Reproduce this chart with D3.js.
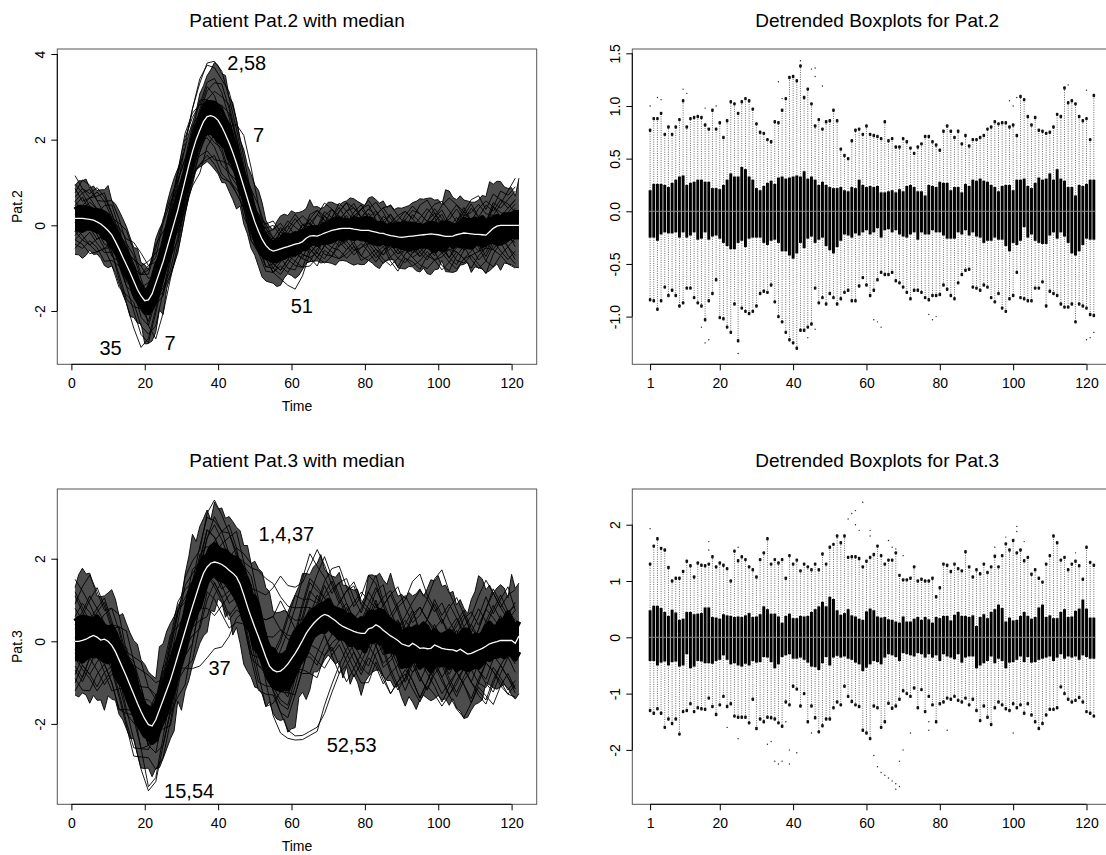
<!DOCTYPE html>
<html>
<head>
<meta charset="utf-8">
<script src="https://cdn.jsdelivr.net/npm/d3@7"></script>
<style>
  body { margin: 0; background: #fff; }
</style>
</head>
<body>
<script>
// ---- data ----
const time = d3.range(1, 123)
const coarseTime = d3.range(1, 122, 2)

const pat2Median = [
  .16,.16,.16,.15,.14,.12,.08,.03,-.04,-.12,
  -.22,-.38,-.55,-.74,-.92,-1.1,-1.3,-1.5,-1.65,-1.76,
  -1.74,-1.6,-1.35,-1.1,-.85,-.55,-.25,.05,.35,.7,
  1.05,1.4,1.72,2.0,2.22,2.42,2.54,2.56,2.53,2.45,
  2.3,2.12,1.92,1.7,1.45,1.18,.9,.62,.34,.08,
  -.14,-.33,-.47,-.56,-.6,-.58,-.55,-.52,-.5,-.47,
  -.44,-.42,-.38,-.3,-.25,-.24,-.25,-.22,-.18,-.15,
  -.12,-.1,-.08,-.07,-.07,-.07,-.09,-.1,-.12,-.12,
  -.12,-.14,-.16,-.18,-.19,-.22,-.24,-.25,-.27,-.28,
  -.27,-.26,-.25,-.24,-.23,-.22,-.21,-.2,-.21,-.22,
  -.24,-.26,-.26,-.25,-.22,-.2,-.18,-.19,-.2,-.21,
  -.21,-.22,-.23,-.15,-.07,-.02,0,0,0,0,
  0,0]

const pat3Median = [
  0,0,.02,.05,.1,.14,.1,.03,.05,0,
  -.1,-.25,-.45,-.65,-.85,-1.07,-1.28,-1.5,-1.7,-1.88,
  -2.02,-2.05,-1.9,-1.66,-1.42,-1.18,-.94,-.65,-.35,-.05,
  .25,.55,.84,1.12,1.4,1.65,1.8,1.89,1.92,1.9,
  1.86,1.8,1.72,1.65,1.56,1.38,1.12,.84,.58,.34,
  .11,-.13,-.38,-.6,-.7,-.74,-.72,-.65,-.55,-.42,
  -.29,-.14,.02,.19,.32,.43,.52,.6,.65,.62,
  .56,.5,.42,.36,.32,.28,.24,.21,.19,.19,
  .3,.33,.4,.35,.27,.2,.13,.08,.02,-.06,
  -.09,-.12,-.05,-.1,-.17,-.16,-.18,-.17,-.09,-.13,
  -.17,-.19,-.2,-.21,-.24,-.19,-.25,-.31,-.29,-.25,
  -.21,-.17,-.12,-.06,-.03,-.01,.02,.02,.02,.02,
  -.05,.13]

// detrended box statistics (curve minus median), one entry per time
const pat2Q3 = [
  .20,.26,.26,.26,.25,.23,.27,.30,.33,.34,
  .25,.27,.28,.30,.30,.28,.28,.22,.22,.21,
  .25,.30,.36,.33,.33,.42,.40,.33,.30,.22,
  .20,.24,.27,.29,.26,.32,.33,.31,.32,.33,
  .34,.33,.38,.31,.33,.30,.25,.28,.25,.23,
  .22,.22,.23,.20,.19,.23,.22,.30,.25,.23,
  .24,.23,.24,.18,.18,.19,.20,.18,.21,.19,
  .24,.25,.23,.19,.19,.15,.25,.24,.23,.28,
  .27,.27,.20,.23,.23,.18,.26,.24,.30,.29,
  .31,.29,.28,.25,.23,.19,.24,.25,.25,.20,
  .30,.30,.31,.24,.22,.27,.32,.30,.31,.36,
  .30,.40,.31,.29,.23,.23,.15,.25,.24,.26,
  .30,.30]
const pat2Q1 = [
  -.25,-.25,-.28,-.22,-.20,-.21,-.21,-.20,-.25,-.20,
  -.25,-.23,-.20,-.27,-.26,-.20,-.27,-.24,-.23,-.26,
  -.30,-.33,-.36,-.36,-.30,-.28,-.34,-.26,-.25,-.25,
  -.25,-.30,-.32,-.28,-.27,-.30,-.38,-.38,-.42,-.45,
  -.40,-.30,-.35,-.26,-.24,-.30,-.27,-.25,-.33,-.37,
  -.40,-.34,-.28,-.22,-.23,-.25,-.21,-.23,-.20,-.18,
  -.22,-.20,-.16,-.25,-.18,-.17,-.20,-.18,-.22,-.24,
  -.25,-.22,-.20,-.27,-.20,-.22,-.22,-.18,-.20,-.20,
  -.23,-.26,-.26,-.26,-.20,-.22,-.18,-.23,-.20,-.24,
  -.25,-.30,-.28,-.28,-.25,-.27,-.27,-.33,-.38,-.30,
  -.32,-.28,-.15,-.25,-.22,-.28,-.30,-.31,-.31,-.23,
  -.20,-.26,-.20,-.24,-.30,-.40,-.42,-.38,-.32,-.26,
  -.27,-.27]
const pat2HiWhisk = [
  .77,.88,.88,.93,.73,.80,.73,.80,.87,1.05,
  .80,.88,.89,.90,.89,.82,.78,.96,.78,.84,
  .70,.86,1.04,1.02,.93,1.04,1.07,1.05,.97,.83,
  .75,.74,.68,.66,.85,.84,.96,1.07,1.27,1.28,
  1.24,1.38,1.08,1.16,1.02,.81,.87,.78,.85,.86,
  .96,.86,.59,.53,.50,.67,.77,.78,.73,.81,
  .73,.72,.71,.69,.85,.67,.69,.61,.61,.69,
  .66,.60,.55,.61,.64,.71,.71,.66,.63,.58,
  .76,.81,.76,.70,.76,.64,.72,.62,.68,.68,
  .70,.72,.78,.80,.85,.83,.84,.84,.80,.82,
  .72,1.09,1.06,.90,.82,.89,.77,.76,.74,.75,
  .80,.92,.90,1.17,1.03,1.05,1.02,.90,.86,.88,
  .68,1.10]
const pat2LoWhisk = [
  -.84,-.85,-.93,-.85,-.72,-.80,-.75,-.80,-.90,-.87,
  -.73,-.73,-.82,-.87,-.90,-1.03,-.85,-.78,-.65,-1.01,
  -1.02,-1.10,-1.15,-.88,-1.23,-.92,-.95,-.97,-.95,-.90,
  -.78,-.76,-.77,-.70,-.86,-1.00,-1.05,-1.15,-1.22,-1.25,
  -1.30,-1.13,-1.13,-1.10,-1.07,-.73,-.87,-.82,-.88,-.78,
  -.82,-.88,-.83,-.77,-.75,-.85,-.85,-.71,-.63,-.70,
  -.80,-.75,-.65,-.58,-.60,-.60,-.58,-.66,-.68,-.72,
  -.77,-.83,-.75,-.75,-.77,-.82,-.84,-.80,-.80,-.79,
  -.70,-.74,-.80,-.83,-.68,-.60,-.56,-.55,-.72,-.73,
  -.75,-.70,-.72,-.82,-.86,-.78,-.92,-.95,-.83,-.80,
  -.58,-.82,-.83,-.85,-.85,-.73,-.73,-.67,-.90,-.76,
  -.78,-.80,-.88,-.91,-.91,-.88,-1.05,-.88,-.90,-.92,
  -.98,-.99]
const pat2Outliers = [
  [1,1.0],[3,1.08],[4,1.06],[10,1.16],[11,1.12],[16,.98],[19,1.0],[15,-1.1],[16,-1.25],[17,-1.22],
  [25,-1.35],[36,1.23],[37,1.07],[42,1.43],[45,1.35],[46,1.36],[46,1.28],[48,1.19],[44,-1.2],[46,-1.12],
  [62,-1.03],[63,-1.05],[64,-1.1],[77,-.98],[78,-1.03],[79,-1.0],[99,1.05],[101,1.08],[100,1.0],
  [115,1.2],[120,1.15],[120,-1.22],[121,-1.2],[122,-1.15]]

const pat3Q3 = [
  .48,.56,.56,.52,.45,.38,.49,.44,.31,.33,
  .45,.45,.41,.42,.43,.53,.53,.36,.35,.33,
  .41,.39,.38,.36,.37,.36,.39,.43,.36,.37,
  .41,.55,.50,.42,.42,.37,.26,.38,.42,.34,
  .34,.38,.37,.38,.45,.50,.55,.63,.55,.72,
  .68,.48,.40,.43,.50,.39,.37,.33,.31,.46,
  .51,.48,.37,.35,.36,.32,.31,.28,.26,.37,
  .28,.28,.33,.36,.31,.36,.32,.26,.36,.34,
  .38,.38,.30,.40,.45,.38,.38,.36,.39,.20,
  .36,.41,.34,.45,.50,.58,.52,.28,.35,.30,
  .31,.38,.45,.38,.33,.36,.53,.58,.36,.39,
  .34,.34,.45,.50,.36,.37,.47,.51,.67,.51,
  .35,.35]
const pat3Q1 = [
  -.42,-.42,-.50,-.45,-.43,-.50,-.44,-.43,-.52,-.50,
  -.30,-.55,-.52,-.42,-.43,-.46,-.46,-.47,-.42,-.40,
  -.32,-.40,-.48,-.46,-.50,-.52,-.47,-.50,-.42,-.45,
  -.44,-.35,-.36,-.44,-.55,-.48,-.35,-.32,-.30,-.38,
  -.38,-.36,-.40,-.45,-.52,-.53,-.58,-.46,-.35,-.50,
  -.36,-.33,-.36,-.34,-.38,-.40,-.45,-.48,-.60,-.54,
  -.48,-.42,-.44,-.48,-.36,-.30,-.32,-.35,-.42,-.28,
  -.30,-.32,-.34,-.28,-.30,-.36,-.30,-.36,-.32,-.42,
  -.30,-.34,-.36,-.39,-.30,-.45,-.36,-.34,-.34,-.55,
  -.50,-.46,-.42,-.34,-.46,-.38,-.42,-.55,-.45,-.44,
  -.40,-.34,-.44,-.35,-.45,-.44,-.40,-.38,-.36,-.34,
  -.42,-.36,-.30,-.38,-.34,-.36,-.34,-.40,-.32,-.35,
  -.38,-.38]
const pat3HiWhisk = [
  1.30,1.62,1.75,1.58,1.55,1.24,1.00,1.05,1.05,1.17,
  1.35,1.27,1.07,1.32,1.28,1.27,1.30,1.43,1.25,1.32,
  1.28,1.22,1.00,1.53,1.36,1.43,1.38,1.25,1.20,1.07,
  1.38,1.50,1.75,1.30,1.38,1.32,1.38,1.05,1.45,1.30,
  1.37,1.18,1.30,1.25,1.20,1.30,1.20,1.48,1.30,1.60,
  1.65,1.80,1.68,1.80,1.42,1.43,1.43,1.40,1.25,1.35,
  1.42,1.47,1.62,1.45,1.30,1.37,1.37,1.50,1.10,1.02,
  1.02,1.05,1.25,1.00,1.03,1.00,1.00,1.05,.72,.88,
  1.30,1.28,1.17,1.30,1.22,1.18,1.52,1.25,1.07,1.20,
  1.13,1.30,1.15,1.25,1.44,1.25,1.45,1.66,1.55,1.72,
  1.50,1.55,1.36,1.42,1.12,1.20,1.05,.98,1.30,1.45,
  1.80,1.68,1.37,1.42,1.20,1.30,1.35,1.27,1.03,1.60,
  1.33,1.28]
const pat3LoWhisk = [
  -1.30,-1.35,-1.27,-1.35,-1.60,-1.45,-1.53,-1.45,-1.72,-1.32,
  -1.30,-1.18,-1.32,-1.25,-1.27,-1.28,-1.08,-1.23,-1.37,-1.20,
  -1.05,-1.23,-1.18,-1.40,-1.42,-1.42,-1.42,-1.52,-1.10,-1.62,
  -1.45,-1.50,-1.42,-1.43,-1.45,-1.52,-1.58,-1.15,-1.20,-.87,
  -.92,-1.22,-1.00,-1.50,-1.22,-1.43,-1.68,-1.57,-1.45,-1.45,
  -1.25,-1.15,-1.20,-.87,-1.05,-1.14,-1.20,-1.23,-1.65,-1.70,
  -1.80,-1.22,-1.25,-1.60,-1.50,-1.17,-1.26,-1.22,-1.10,-.95,
  -1.00,-1.05,-.90,-1.25,-.93,-1.32,-1.05,-1.20,-1.50,-1.18,
  -1.15,-1.08,-1.10,-1.05,-1.12,-1.15,-1.08,-1.20,-1.10,-1.30,
  -1.48,-1.22,-1.42,-1.55,-1.25,-1.15,-1.20,-1.27,-1.30,-1.18,
  -1.25,-1.20,-1.35,-1.18,-1.38,-1.50,-1.62,-1.53,-1.38,-1.28,
  -1.28,-1.25,-.88,-1.00,-1.10,-1.15,-1.12,-1.07,-1.15,-1.32,
  -1.35,-1.40]
const pat3Outliers = [
  [1,1.93],[17,1.7],[17,1.55],[25,1.6],[55,2.1],[56,2.2],[57,2.25],[57,2.0],[58,1.9],[59,2.4],
  [61,1.9],[61,1.8],[66,1.72],[67,1.6],[68,1.57],[70,1.45],[95,1.6],[98,1.78],[101,1.97],[101,1.88],
  [103,1.7],[117,1.5],[33,-1.9],[34,-1.85],[35,-2.2],[36,-2.25],[37,-2.2],[39,-2.0],[39,-2.25],[41,-2.05],
  [38,-1.5],[45,-1.7],[62,-2.1],[63,-2.3],[64,-2.4],[65,-2.45],[66,-2.5],[67,-2.55],[68,-2.6],[68,-2.7],
  [69,-2.65],[69,-2.2],[70,-2.0],[72,-1.7],[77,-1.5],[77,-1.65],[82,-1.65],[100,-1.7],[25,-1.8],[22,-1.6]]

// individual curves, as residuals from the median at odd times 1,3,...,121
const pat2Residuals = [
  [.6,.9,.8,.5,.3,.2,.1,-.2,-.4,-.3, .1,.4,.6,.7,.8,.9,1.0,1.1,1.25,1.3, 1.3,1.05,.8,.5,.3,.1,-.2,-.3,.1,.3,
   .1,.4,.3,0,.2,.5,.3,.1,.4,.6, .3,.1,.4,.3,0,.2,.5,.3,.1,.4, .6,.3,.1,.4,.7,.4,.2,.5,.8,.7, .9],
  [.2,.1,-.2,-.4,-.2,0,.3,.5,.6,.4, 0,-.3,-.1,.3,.6,.8,1.0,1.2,1.2,1.15, 1.1,1.2,1.0,.7,.4,.2,.1,.3,.5,.2,
   -.2,-.4,-.1,.2,.4,.1,-.2,0,.3,.1, -.3,-.1,.2,.5,.3,0,-.3,-.2,.1,.3, .5,.2,-.1,.3,.6,.4,.1,-.2,0,.3, .5],
  [-.3,-.5,-.6,-.4,-.2,-.4,-.7,-.9,-1.1,-1.2, -.9,-.6,-.4,-.2,-.5,-.7,-.4,-.2,0,.2, .1,-.2,-.4,-.3,-.1,.2,.4,.3,.1,-.1,
   .2,.4,.1,-.2,0,.3,.5,.2,-.1,.1, .4,.2,-.1,-.3,0,.2,-.1,-.4,-.2,.1, .3,0,-.3,-.1,.2,.4,.1,-.2,-.4,-.1, .2],
  [.4,.6,.7,.5,.6,.8,.7,.5,.3,.1, -.6,-1.3,-1.2,-1.0,-.8,-.6,-.5,-.3,-.2,-.3, -.1,.4,.9,1.2,1.0,.6,.2,0,-.2,.1,
   .3,.1,-.2,-.4,-.1,.2,0,-.3,-.1,.2, 0,-.3,-.5,-.2,.1,-.1,-.4,-.2,.2,0, -.3,-.5,-.2,.1,-.2,-.4,-.1,.2,0,-.3, -.4],
  [-.5,-.3,-.1,.1,.3,.1,-.2,-.4,-.2,.1, .3,.5,.3,.1,-.2,-.4,-.6,-.5,-.3,-.1, -.2,-.4,-.2,0,-.3,-.5,-.6,-.5,-.7,-.9,
   -1.05,-.8,-.4,-.2,-.5,-.6,-.3,-.1,-.4,-.6, -.3,0,-.2,-.5,-.7,-.4,-.2,-.5,-.3,0, -.2,-.5,-.7,-.4,-.1,-.3,-.6,-.4,-.2,-.5, -.7],
  [.8,.6,.3,.2,.5,.7,.5,.2,0,-.3, -.5,-.3,.2,.5,.7,.5,.2,-.2,-.5,-.7, -.9,-.7,-.4,-.1,.2,.4,.3,.5,.6,.3,
   .5,.6,.3,.1,.4,.5,.2,.4,.6,.3, .1,.4,.6,.4,.2,.5,.7,.5,.3,.6, .4,.1,.3,.6,.3,0,.3,.6,.4,.6, .8],
  [-.6,-.7,-.5,-.6,-.8,-.6,-.4,-.2,.2,.5, .7,.9,.7,.4,.1,-.2,-.5,-.8,-1.0,-.9, -1.1,-.9,-.6,-.3,-.4,-.2,-.5,-.4,-.2,-.5,
   -.6,-.3,-.5,-.7,-.4,-.6,-.7,-.5,-.3,-.6, -.7,-.5,-.3,-.6,-.8,-.5,-.6,-.8,-.5,-.4, -.7,-.8,-.5,-.3,-.6,-.8,-.6,-.9,-.7,-.5, -.8],
  [.1,.3,.5,.7,.6,.4,.6,.8,.7,.5, .8,.6,.9,.8,.5,.3,.5,.7,.4,.2, .5,.7,.6,.4,.5,.2,.4,.6,.3,.5,
   .7,.4,.2,.5,.7,.5,.2,.4,.5,.3, .5,.7,.5,.2,.4,.6,.4,.7,.8,.5, .2,.5,.7,.5,.8,.9,.6,.8,.6,.4, .6],
  [-.2,-.4,-.6,-.7,-.5,-.7,-.9,-.7,-.5,-.7, -.8,-1.0,-.7,-.9,-1.0,-.8,-.6,-.8,-.9,-1.1, -1.2,-.9,-.7,-.5,-.7,-.4,-.3,-.5,-.4,-.6,
   -.4,-.6,-.7,-.5,-.3,-.5,-.7,-.6,-.4,-.7, -.6,-.4,-.6,-.7,-.5,-.3,-.5,-.7,-.8,-.6, -.4,-.6,-.8,-.6,-.5,-.7,-.9,-.6,-.4,-.7, -.9],
  [.3,.5,.2,0,.2,.4,.2,.1,.3,.5, .6,.8,1.0,.9,.7,.5,.6,.4,.2,0, -.3,-.5,-.3,-.1,.2,0,.2,.1,.4,.6,
   .4,.2,.5,.6,.3,.1,.4,.6,.3,.5, .6,.3,.1,.3,.5,.6,.4,.2,.5,.7, .8,.6,.3,.5,.3,.6,.8,.5,.3,.2, .4],
  [-.4,-.2,0,-.2,-.4,-.3,-.1,0,-.2,-.5, -.6,-.4,-.6,-.8,-.6,-.4,-.7,-.5,-.3,-.5, -.6,-.8,-.7,-.5,-.2,-.3,-.1,-.3,-.5,-.3,
   -.1,-.3,-.5,-.4,-.6,-.4,-.2,-.4,-.6,-.4, -.2,-.4,-.5,-.3,-.5,-.6,-.4,-.3,-.5,-.6, -.5,-.3,-.4,-.6,-.4,-.2,-.5,-.3,-.6,-.8, -.6],
  [.7,.4,.5,.3,.1,-.1,.1,.3,.5,.7, .9,.7,.4,.6,.9,1.0,.8,.6,.8,.9, .8,.6,.3,.1,-.1,-.3,-.1,.2,0,-.2,
   -.4,-.2,.1,-.1,-.3,-.2,.1,.3,.1,-.2, 0,.2,-.1,.1,.3,.1,-.1,0,.2,.1, -.1,.2,.4,.2,0,-.2,.1,.3,.1,.3, 0],
  [-.1,.2,.4,.3,0,-.2,0,.3,.5,.7, .5,.2,-.2,-.5,-.7,-.5,-.2,.1,.4,.6, .7,.9,.6,.3,.5,.6,.4,.2,.4,.5,
   .2,0,.3,.5,.3,0,-.2,.1,.3,.5, .3,.5,.2,0,.3,.4,.1,-.1,.2,.4, .1,-.1,.2,.5,.3,0,.3,.5,.2,.4, .6],
  [.4,.2,0,-.3,-.5,-.3,0,.2,.4,.2, -.2,-.5,-.8,-.6,-.3,0,.3,.5,.7,.5, .2,-.1,-.4,-.7,-.5,-.2,.1,-.1,-.3,-.1,
   .1,-.1,-.4,-.2,.1,-.2,-.4,-.1,.2,0, -.2,.1,.3,0,-.3,-.1,.2,0,-.3,-.5, -.2,.1,-.1,-.4,-.2,.1,-.2,-.5,-.3,0, .2],
  [1.0,.7,.5,.6,.8,.5,.3,.1,-.1,.2, .4,.3,.5,.7,.9,1.1,.9,.6,.3,-.1, -.4,-.2,.1,.3,.2,.4,.5,.3,.2,.4,
   .6,.3,.4,.6,.4,.2,.4,.6,.5,.3, .5,.4,.6,.7,.5,.3,.2,.4,.6,.4, .7,.9,.7,.4,.5,.7,.5,.3,.5,.8, 1.1],
  [-.7,-.5,-.3,-.5,-.6,-.4,-.6,-.8,-.6,-.3, -.1,-.4,-.7,-.5,-.2,0,-.3,-.6,-.8,-1.0, -.8,-.5,-.2,-.4,-.6,-.4,-.5,-.3,-.5,-.3,
   -.5,-.6,-.3,-.5,-.7,-.6,-.4,-.3,-.5,-.4, -.3,-.5,-.7,-.5,-.3,-.5,-.7,-.6,-.4,-.6, -.8,-.6,-.4,-.6,-.8,-.5,-.3,-.5,-.7,-.9, -1.0],
  [.2,0,.1,.3,.1,.3,.5,.6,.9,1.0, .8,.5,.2,.4,.2,-.1,-.3,-.5,-.4,-.6, -.5,-.7,-.5,-.2,0,.1,-.1,.1,-.1,.1,
   .3,.1,0,.2,-.1,.1,.3,0,-.1,.2, .1,-.1,.1,.2,0,-.2,0,.2,0,-.1, .1,.3,.1,-.2,-.1,.1,-.1,0,.2,0, -.2],
  [-.5,-.6,-.8,-.7,-.5,-.2,-.4,-.5,-.7,-.9, -1.0,-.7,-.4,-.2,.1,.3,0,-.2,.1,.3, .5,.3,-.1,-.3,-.1,-.3,-.2,-.4,-.6,-.4,
   -.2,-.4,-.6,-.3,-.2,-.4,-.5,-.7,-.5,-.3, -.5,-.7,-.4,-.2,-.4,-.3,-.5,-.4,-.6,-.3, -.4,-.3,-.6,-.7,-.5,-.4,-.3,-.1,-.3,-.5, -.3],
  [.5,.7,.6,.8,.7,.5,.4,.2,.1,.3, .1,-.1,.1,-.1,-.3,-.1,.2,.4,.6,.8, 1.0,.8,.5,.2,.4,.3,.5,.7,.4,.2,
   0,.2,.4,.2,.5,.3,.6,.4,.2,.5, .7,.5,.3,.5,.2,.4,.6,.5,.3,.5, .3,.4,.6,.3,.1,.4,.7,.4,.6,.5, .3],
  [-.3,-.1,.1,0,-.2,-.5,-.3,-.5,-.3,0, .2,0,-.3,-.5,-.3,-.6,-.8,-1.0,-.7,-.4, -.2,0,-.2,-.5,-.7,-.5,-.3,-.5,-.3,-.2,
   -.3,-.1,-.3,-.5,-.3,-.1,-.3,-.5,-.3,-.1, -.4,-.6,-.4,-.2,-.4,-.2,-.3,-.5,-.3,-.1, -.3,-.5,-.3,-.1,-.3,-.6,-.4,-.2,-.4,-.2, -.5]
]

const pat3Residuals = [
  [.9,1.3,1.5,1.1,.7,.9,1.1,.6,.2,-.2, -.5,-.2,.4,.9,1.1,.8,.6,.9,1.2,1.0, .8,.9,.6,.4,.7,1.1,1.5,2.0,2.3,1.9,
   1.6,1.4,1.5,1.7,1.2,.8,.5,.9,1.1,.7, .4,.8,1.1,.6,.3,.7,1.0,1.4,1.2,.8, 1.1,.7,.4,.8,1.0,.6,.9,1.3,.9,.6, 1.0],
  [.3,.6,.9,1.2,.8,.4,.1,.5,.8,.6, .2,-.1,.3,.7,1.0,1.3,1.1,.8,1.3,1.5, 1.2,.9,.5,.8,1.2,1.6,1.9,2.1,1.8,1.4,
   1.1,1.5,1.8,1.3,.9,.6,1.0,1.2,.8,.5, .9,1.2,.7,.4,.8,1.1,1.5,1.8,1.3,.9, .6,1.0,1.3,.9,.5,.8,1.2,.7,1.0,1.3, .8],
  [-.6,-.9,-.5,-.2,.1,-.3,-.6,-.9,-.7,-.4, 0,.4,.7,.3,-.3,-.9,-1.5,-2.0,-2.2,-2.1, -2.0,-1.6,-1.0,-.4,.1,.5,.9,1.3,1.7,1.2,
   .6,.2,-.2,.3,.7,.4,-.1,-.4,0,.4, .1,-.3,-.6,-.2,.2,-.1,-.5,-.8,-.4,0, -.3,-.6,-.2,.3,-.1,-.5,-.8,-.4,-.1,.3, -.2],
  [-.2,.1,.4,.1,-.3,-.6,-.4,-.8,-1.1,-1.4, -1.6,-1.5,-1.1,-.8,-1.0,-1.3,-.9,-.5,-.2,-.5, -.8,-.5,-.1,.3,.6,.2,-.2,.1,.4,0,
   -.4,-.7,-.3,0,-.5,-.8,-.4,-.1,-.5,-.9, -.6,-.2,-.5,-.9,-1.2,-.8,-.4,-.7,-1.0,-.6, -.3,-.7,-1.0,-.6,-.2,-.5,-.9,-1.2,-.8,-.4, -.7],
  [.5,.2,-.2,-.5,-.2,.2,.5,.1,-.4,-.9, -1.5,-1.4,-.9,-.4,-.1,.2,.5,.2,-.2,.1, .4,.1,-.3,-.7,-1.0,-.7,-.3,0,-.4,-.8,
   -.5,-.1,.3,.6,.2,-.2,.1,.5,.2,-.2, .2,.5,.2,-.1,.3,.6,.3,-.1,.2,.5, .2,-.2,.1,.4,.7,.3,0,.3,.6,.2, .4],
  [-1.2,-.9,-.5,-.8,-1.1,-.7,-.4,-.1,.3,.6, .2,-.3,-.6,-.3,.2,.6,.9,.5,.1,-.3, -.6,-.3,.2,.5,.1,-.3,-.1,-.5,-1.0,-1.6,
   -2.0,-2.3,-2.5,-2.6,-2.4,-1.8,-1.2,-.7,-.3,-.6, -.9,-.5,-.1,-.4,-.8,-1.1,-.7,-.3,-.6,-1.0, -1.3,-.9,-.5,-.8,-1.2,-.8,-.4,-.7,-1.1,-.8, -1.1],
  [-.9,-1.2,-1.3,-.9,-.6,-.9,-1.2,-.8,-.4,-.1, .3,.6,.3,-.2,-.5,-.2,.2,.5,.2,-.2, -.5,-.8,-.5,-.1,.3,-.1,-.6,-1.1,-1.5,-1.8,
   -2.1,-2.4,-2.6,-2.7,-2.2,-1.6,-1.0,-.5,-.2,.2, -.1,-.5,-.9,-.6,-.2,-.5,-.9,-1.2,-.8,-.4, -.7,-1.1,-.8,-.4,-.7,-1.1,-1.4,-1.0,-.6,-.9, -1.2],
  [1.2,.8,.4,.7,1.0,.6,.3,.6,.9,1.2, .9,.5,.8,1.1,.7,.4,.1,.4,.7,.9, .6,.3,.7,1.0,1.3,.9,.6,.3,.7,1.1,
   1.4,1.0,.7,.4,.8,1.2,1.4,1.0,.6,.9, 1.3,1.0,.6,1.0,1.3,.9,.5,.8,1.2,1.6, 1.9,1.4,1.0,.6,.9,1.3,1.6,1.2,.8,1.1, 1.3],
  [-.4,-.7,-1.0,-1.3,-1.0,-.6,-.9,-1.2,-1.5,-1.1, -.8,-1.2,-1.4,-1.0,-.6,-.9,-1.3,-1.0,-.6,-.9, -1.2,-1.4,-1.1,-.7,-1.0,-1.3,-.9,-.6,-1.0,-1.3,
   -1.0,-.7,-1.1,-1.4,-1.0,-.7,-1.0,-1.3,-.9,-1.2, -1.3,-.9,-1.2,-1.4,-1.0,-.7,-1.1,-1.3,-.9,-1.2, -1.4,-1.1,-1.4,-1.6,-1.2,-.9,-1.2,-1.5,-1.1,-1.3, -1.3],
  [.6,.9,.6,.3,.6,.9,.7,.4,.7,1.0, 1.2,.9,.5,.8,1.1,.7,.4,.7,.5,.2, .5,.8,1.1,.8,.5,.2,.5,.8,1.0,.7,
   .4,.8,1.1,.7,.4,.1,.5,.9,1.2,.8, .5,.2,.6,1.0,.7,.3,.6,1.0,.7,.4, .1,.5,.8,.4,.1,.5,.9,.6,.3,.7, .5],
  [-.8,-.4,-.1,-.4,-.8,-1.1,-.7,-.3,-.6,-.9, -.6,-.3,-.7,-1.1,-.8,-.4,-.7,-1.1,-.8,-.5, -.8,-1.1,-.7,-.3,-.6,-.9,-1.2,-.8,-.5,-.7,
   -.4,-.8,-1.1,-.8,-.5,-.9,-1.2,-.9,-.5,-.8, -1.1,-.7,-.4,-.8,-1.1,-.8,-.4,-.7,-1.0,-.7, -.4,-.8,-1.1,-.7,-.4,-.8,-1.0,-.6,-.9,-1.2, -.9],
  [.1,-.2,.2,.5,.2,-.1,.2,.5,.2,-.1, -.3,0,.3,-.1,-.4,-.1,.3,0,-.3,.1, .4,.1,-.2,.2,.5,.1,-.3,.1,.4,.1,
   -.2,.2,.5,.1,-.3,0,.4,.1,-.2,.2, .5,.1,-.2,.2,.5,.2,-.2,.1,.4,.1, -.2,.2,.5,.1,-.2,.2,.5,.2,-.1,.2, .3],
  [1.1,.7,.3,.6,.9,.5,.2,-.1,.3,.6, .9,.6,.2,.5,.8,1.1,.8,.5,.2,.5, .8,1.1,.7,.3,-.1,.3,.6,.2,-.2,.2,
   .5,.9,1.2,.8,.4,.7,1.0,.6,.3,.6, .9,.5,.2,.5,.9,1.2,.8,.4,.7,1.0, .7,.3,.6,.9,.5,.2,.5,.8,1.1,.7, .9],
  [-1.0,-.6,-.9,-1.2,-.8,-.5,-.8,-1.1,-1.3,-.9, -.5,-.8,-1.1,-.7,-.3,-.6,-.9,-.5,-.2,-.6, -.9,-1.2,-.8,-.5,-.8,-1.1,-.7,-.4,-.7,-1.0,
   -.6,-.3,-.6,-1.0,-1.3,-.9,-.5,-.8,-1.1,-.7, -.4,-.8,-1.1,-1.4,-1.0,-.6,-.9,-1.2,-.8,-.5, -.8,-1.1,-.7,-.4,-.7,-1.0,-1.3,-.9,-.6,-.9, -1.1],
  [.4,.7,1.0,.7,.4,.1,.4,.7,.4,.1, -.2,.2,.6,1.0,1.3,1.0,.6,.3,.7,1.1, .8,.4,.1,-.2,.2,.5,.9,1.3,1.0,.6,
   .3,.6,.9,.5,.2,-.1,.3,.6,.3,0, .3,.6,.2,-.1,.2,.5,.8,.4,.1,.4, .7,.4,.1,.4,.7,1.0,.6,.3,0,.3, .6],
  [-.3,-.6,-.9,-.6,-.3,0,-.3,-.6,-.3,0, .3,0,-.4,-.8,-.5,-.2,-.5,-.9,-1.2,-.8, -.4,-.1,.3,0,-.4,-.7,-.4,-.1,-.4,-.7,
   -1.0,-.7,-.4,-.7,-1.0,-.6,-.3,-.6,-.9,-.5, -.2,-.5,-.8,-.5,-.1,-.4,-.7,-.4,-.1,-.4, -.7,-.4,-.1,-.4,-.7,-.3,0,-.3,-.6,-.3, -.5],
  [.8,.5,.2,-.1,.2,.5,.8,1.1,.8,.4, .1,.4,.8,.5,.1,-.2,.1,.5,.9,.6, .3,0,.4,.7,1.0,.7,.4,.1,.5,.8,
   1.1,.8,.5,.2,.5,.9,.6,.3,0,.3, .6,.9,.6,.3,0,.3,.7,1.0,.7,.3, 0,.3,.7,1.0,.6,.3,.6,.9,.5,.2, .5],
  [-.7,-1.0,-.7,-.3,-.6,-.9,-1.2,-.9,-.5,-.2, -.5,-.8,-.4,0,.3,0,-.3,-.6,-1.0,-1.3, -1.0,-.6,-.3,-.6,-.9,-.5,-.2,-.5,-.8,-1.1,
   -.8,-.4,-.7,-1.1,-.8,-.4,-.1,-.4,-.7,-1.0, -.7,-1.0,-1.3,-.9,-.6,-.9,-.5,-.2,-.5,-.8, -1.1,-.8,-.5,-.8,-1.1,-.7,-.4,-.7,-1.0,-1.3, -1.0],
  [0,.3,-.1,-.4,-.1,.3,0,-.3,0,.3, .6,.3,0,.4,.1,-.2,.1,.4,.1,-.2, .1,.4,.1,-.3,0,.3,0,-.4,-.1,.2,
   -.1,-.4,-.1,.2,-.1,-.4,-.1,.3,0,-.3, 0,.3,0,-.3,-.6,-.3,0,.3,0,-.3, 0,.3,0,-.3,0,.3,-.1,-.4,-.1,.2, -.1],
  [1.5,1.2,.8,.4,.1,.4,.8,.5,.1,-.2, -.5,-.2,.2,-.2,-.5,-.2,.2,.6,.9,.6, .2,-.2,.1,.5,.8,.4,.1,.4,.8,1.2,
   .8,.5,.8,1.1,1.4,1.0,.7,.4,.7,1.0, .7,.4,.8,1.1,.8,.4,.1,.4,.7,1.1, .8,1.1,.8,.5,.2,.5,.9,1.2,.8,.5, .8]
]

// curve labels, placed in data coordinates
const pat2Labels = [
  {text: '2,58', t: 47.8, v: 3.8}, {text: '7', t: 51, v: 2.12}, {text: '35', t: 10.7, v: -2.86},
  {text: '7', t: 26.9, v: -2.75}, {text: '51', t: 62.8, v: -1.89}]
const pat3Labels = [
  {text: '1,4,37', t: 58.6, v: 2.61}, {text: '37', t: 40.4, v: -0.64},
  {text: '15,54', t: 32.1, v: -3.62}, {text: '52,53', t: 76.4, v: -2.51}]

const curveTicksX = [0, 20, 40, 60, 80, 100, 120]
const boxTicksX = [1, 20, 40, 60, 80, 100, 120]
const pat2TicksY = [-2, 0, 2, 4]
const pat3TicksY = [-2, 0, 2]
const pat2BoxTicksY = [-1, -0.5, 0, 0.5, 1, 1.5]
const pat3BoxTicksY = [-2, -1, 0, 1, 2]

// ---- drawing ----
const FONT = '"Liberation Sans", Arial, Helvetica, sans-serif'
const svg = d3.select('body').append('svg')
  .attr('width', 1106).attr('height', 855)
  .style('font-family', FONT)

function frame(p, x, y, xt, yt, yfmt, title, xlab, ylab) {
  let g = svg.append('g')
  g.append('rect')
    .attr('x', p.x0).attr('y', p.y0)
    .attr('width', p.x1 - p.x0).attr('height', p.y1 - p.y0)
    .attr('fill', 'none').attr('stroke', '#555')
  let ax = g.append('g').attr('transform', `translate(0,${p.y1})`)
    .call(d3.axisBottom(x).tickValues(xt).tickSize(6).tickPadding(8).tickFormat(d => String(d)))
  ax.select('.domain').remove()
  ax.append('line').attr('x1', x(xt[0])).attr('x2', x(xt[xt.length - 1]))
    .attr('stroke', '#000')
  ax.attr('font-size', 14).attr('font-family', FONT)
  let ay = g.append('g').attr('transform', `translate(${p.x0},0)`)
    .call(d3.axisLeft(y).tickValues(yt).tickSize(6).tickFormat(yfmt))
  ay.select('.domain').remove()
  ay.append('line').attr('y1', y(yt[0])).attr('y2', y(yt[yt.length - 1]))
    .attr('stroke', '#000')
  ay.attr('font-size', 14).attr('font-family', FONT)
  ay.selectAll('text')
    .attr('x', null).attr('dy', null)
    .attr('text-anchor', 'middle')
    .attr('transform', 'translate(-12,0) rotate(-90)')
  g.append('text')
    .attr('x', (p.x0 + p.x1) / 2).attr('y', p.y0 - 22.5)
    .attr('text-anchor', 'middle').attr('font-size', 19)
    .text(title)
  if (xlab) {
    g.append('text')
      .attr('x', (p.x0 + p.x1) / 2).attr('y', p.y1 + 46.5)
      .attr('text-anchor', 'middle').attr('font-size', 14)
      .text(xlab)
  }
  if (ylab) {
    g.append('text')
      .attr('transform', `translate(22,${(p.y0 + p.y1) / 2}) rotate(-90)`)
      .attr('text-anchor', 'middle').attr('font-size', 14)
      .text(ylab)
  }
}

function curvePanel(p, id, x, y, median, residuals, q1, q3, lo, hi, labels) {
  let clip = svg.append('clipPath').attr('id', id)
  clip.append('rect').attr('x', p.x0).attr('y', p.y0)
    .attr('width', p.x1 - p.x0).attr('height', p.y1 - p.y0)
  let g = svg.append('g').attr('clip-path', `url(#${id})`)
  let band = d3.area().x(t => x(t))
  let line = d3.line().x(d => x(d[0])).y(d => y(d[1]))
  let statLine = s => line(time.map(t => [t, median[t - 1] + s[t - 1]]))
  // whisker range of the detrended boxplots: loose bundle
  g.append('path')
    .attr('d', band.y0(t => y(median[t - 1] + lo[t - 1])).y1(t => y(median[t - 1] + hi[t - 1]))(time))
    .attr('fill', '#000').attr('fill-opacity', 0.7)
  // box range: dense core
  g.append('path')
    .attr('d', band.y0(t => y(median[t - 1] + q1[t - 1])).y1(t => y(median[t - 1] + q3[t - 1]))(time))
    .attr('fill', '#000')
  ;[q1, q3].forEach(s => {
    g.append('path').attr('d', statLine(s))
      .attr('fill', 'none').attr('stroke', '#000').attr('stroke-width', 5)
      .attr('stroke-linejoin', 'round')
  })
  residuals.forEach(r => {
    g.append('path')
      .attr('d', line(coarseTime.map((t, i) => [t, median[t - 1] + r[i]])))
      .attr('fill', 'none').attr('stroke', '#000').attr('stroke-width', 0.9)
  })
  ;[lo, hi].forEach(s => {
    g.append('path').attr('d', statLine(s))
      .attr('fill', 'none').attr('stroke', '#000').attr('stroke-width', 0.9)
  })
  g.append('path')
    .attr('d', line(time.map(t => [t, median[t - 1]])))
    .attr('fill', 'none').attr('stroke', '#fff').attr('stroke-width', 1.3)
  svg.append('g').selectAll('text').data(labels).join('text')
    .attr('x', d => x(d.t)).attr('y', d => y(d.v))
    .attr('dy', '0.36em')
    .attr('text-anchor', 'middle').attr('font-size', 20)
    .text(d => d.text)
}

function boxPanel(p, id, x, y, q1, q3, lo, hi, outliers) {
  let clip = svg.append('clipPath').attr('id', id)
  clip.append('rect').attr('x', p.x0).attr('y', p.y0)
    .attr('width', p.x1 - p.x0).attr('height', p.y1 - p.y0)
  let g = svg.append('g').attr('clip-path', `url(#${id})`)
  let bw = 2.9
  g.selectAll('.wu').data(time).join('line')
    .attr('x1', t => x(t)).attr('x2', t => x(t))
    .attr('y1', t => y(q3[t - 1])).attr('y2', t => y(hi[t - 1]))
    .attr('stroke', '#444').attr('stroke-width', 0.8).attr('stroke-dasharray', '1,1.3')
  g.selectAll('.wl').data(time).join('line')
    .attr('x1', t => x(t)).attr('x2', t => x(t))
    .attr('y1', t => y(q1[t - 1])).attr('y2', t => y(lo[t - 1]))
    .attr('stroke', '#444').attr('stroke-width', 0.8).attr('stroke-dasharray', '1,1.3')
  g.selectAll('.bx').data(time).join('rect')
    .attr('x', t => x(t) - bw / 2).attr('width', bw)
    .attr('y', t => y(q3[t - 1])).attr('height', t => y(q1[t - 1]) - y(q3[t - 1]))
    .attr('fill', '#000')
  g.append('line')
    .attr('x1', x(1) - bw / 2).attr('x2', x(122) + bw / 2)
    .attr('y1', y(0)).attr('y2', y(0))
    .attr('stroke', '#888').attr('stroke-width', 1)
  let staples = time.flatMap(t => [[t, hi[t - 1]], [t, lo[t - 1]]])
  g.selectAll('.st').data(staples).join('rect')
    .attr('x', d => x(d[0]) - 1.3).attr('width', 2.6)
    .attr('y', d => y(d[1]) - 1.7).attr('height', 3.4)
    .attr('rx', 1)
    .attr('fill', '#111')
  g.selectAll('.ol').data(outliers).join('circle')
    .attr('cx', d => x(d[0])).attr('cy', d => y(d[1])).attr('r', 0.7)
    .attr('fill', '#222')
}

const pTL = {x0: 57.3, x1: 536.7, y0: 49, y1: 364.3}
const pTR = {x0: 632.3, x1: 1122, y0: 49, y1: 364.3}
const pBL = {x0: 57.3, x1: 536.7, y0: 489, y1: 804.3}
const pBR = {x0: 632.3, x1: 1122, y0: 489, y1: 804.3}

const xCurve = d3.scaleLinear().domain([-3.84, 126.84]).range([pTL.x0, pTL.x1])
const xBox = d3.scaleLinear().domain([1, 120]).range([650.1, 1086.5])
const yTL = d3.scaleLinear().domain([-3.245, 4.117]).range([pTL.y1, pTL.y0])
const yTR = d3.scaleLinear().domain([-1.453, 1.541]).range([pTR.y1, pTR.y0])
const yBL = d3.scaleLinear().domain([-3.947, 3.688]).range([pBL.y1, pBL.y0])
const yBR = d3.scaleLinear().domain([-2.966, 2.634]).range([pBR.y1, pBR.y0])

curvePanel(pTL, 'clipTL', xCurve, yTL, pat2Median, pat2Residuals, pat2Q1, pat2Q3, pat2LoWhisk, pat2HiWhisk, pat2Labels)
frame(pTL, xCurve, yTL, curveTicksX, pat2TicksY, d => String(d), 'Patient Pat.2 with median', 'Time', 'Pat.2')

boxPanel(pTR, 'clipTR', xBox, yTR, pat2Q1, pat2Q3, pat2LoWhisk, pat2HiWhisk, pat2Outliers)
frame(pTR, xBox, yTR, boxTicksX, pat2BoxTicksY, d => d.toFixed(1), 'Detrended Boxplots for Pat.2')

curvePanel(pBL, 'clipBL', xCurve, yBL, pat3Median, pat3Residuals, pat3Q1, pat3Q3, pat3LoWhisk, pat3HiWhisk, pat3Labels)
frame(pBL, xCurve, yBL, curveTicksX, pat3TicksY, d => String(d), 'Patient Pat.3 with median', 'Time', 'Pat.3')

boxPanel(pBR, 'clipBR', xBox, yBR, pat3Q1, pat3Q3, pat3LoWhisk, pat3HiWhisk, pat3Outliers)
frame(pBR, xBox, yBR, boxTicksX, pat3BoxTicksY, d => String(d), 'Detrended Boxplots for Pat.3')
</script>
</body>
</html>
